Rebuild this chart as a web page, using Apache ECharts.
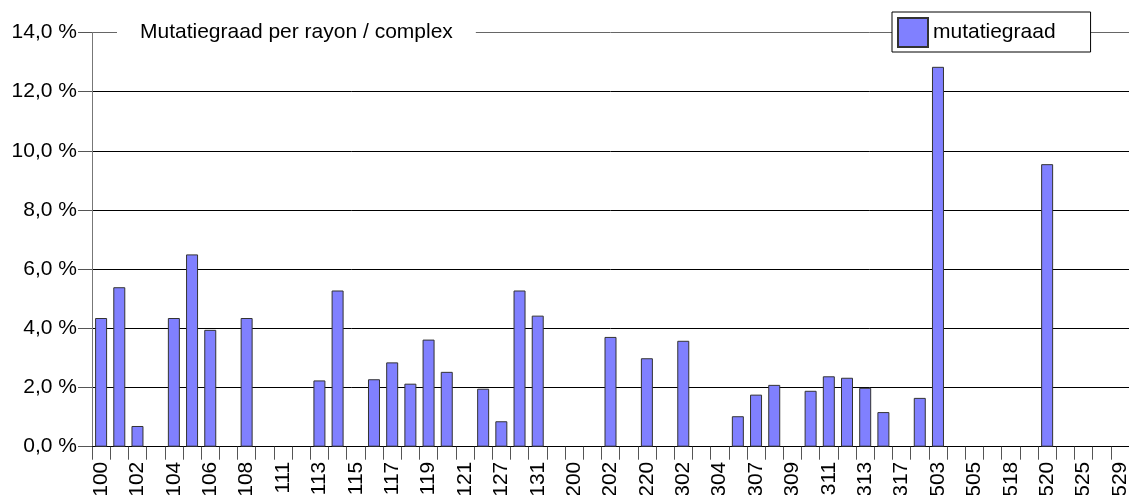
<!DOCTYPE html>
<html>
<head>
<meta charset="utf-8">
<script src="https://cdn.jsdelivr.net/npm/echarts@6/dist/echarts.min.js"></script>
<style>
  html, body { margin: 0; padding: 0; background: #fff; }
  #chart { width: 1129px; height: 495px; }
</style>
</head>
<body>
<div id="chart"></div>
<script>
// rayon / complex codes (only every other one is labelled on the axis)
const categories = [
  '100', '101', '102', '103', '104', '105', '106', '107', '108', '110',
  '111', '112', '113', '114', '115', '116', '117', '118', '119', '120',
  '121', '125', '127', '129', '131', '132', '200', '201', '202', '210',
  '220', '301', '302', '303', '304', '306', '307', '308', '309', '310',
  '311', '312', '313', '315', '317', '318', '503', '504', '505', '510',
  '518', '519', '520', '522', '525', '527', '529'
];

// mutatiegraad in %
const mutatiegraad = [
  4.35, 5.39, 0.70, 0, 4.35, 6.50, 3.95, 0, 4.35, 0,
  0, 0, 2.24, 5.28, 0, 2.28, 2.85, 2.13, 3.62, 2.53,
  0, 1.96, 0.86, 5.28, 4.43, 0, 0, 0, 3.71, 0,
  2.99, 0, 3.58, 0, 0, 1.03, 1.76, 2.09, 0, 1.89,
  2.38, 2.33, 1.99, 1.17, 0, 1.65, 12.84, 0, 0, 0,
  0, 0, 9.55, 0, 0, 0, 0
];

const yMin = 0;
const yMax = 14;
const yStep = 2;

const FONT = "'Liberation Sans', Arial, sans-serif";

const chart = echarts.init(document.getElementById('chart'));

// a 0 % bar has no visible column, so leave it out (otherwise its border shows on the axis)
const barData = mutatiegraad.map(v => (v === 0 ? '-' : v));

chart.setOption({
  animation: false,
  backgroundColor: '#fff',
  textStyle: { fontFamily: FONT },
  title: {
    text: 'Mutatiegraad per rayon / complex',
    left: 117,
    top: 20,
    padding: [0, 23],
    backgroundColor: '#fff',
    textStyle: {
      fontFamily: FONT,
      fontSize: 21,
      fontWeight: 'normal',
      color: '#000',
      lineHeight: 24
    }
  },
  legend: {
    data: ['mutatiegraad'],
    left: 892,
    top: 12,
    padding: [5, 35, 4, 5],
    backgroundColor: '#fff',
    borderColor: '#000',
    borderWidth: 1,
    borderRadius: 0,
    icon: 'rect',
    itemWidth: 30,
    itemHeight: 29,
    textStyle: { fontFamily: FONT, fontSize: 21, color: '#000' }
  },
  grid: {
    left: 92,
    right: 0,
    top: 32.5,
    bottom: 48.3,
    containLabel: false,
    outerBoundsMode: 'none' // labels run off the bottom edge, like the original
  },
  xAxis: {
    type: 'category',
    data: categories,
    boundaryGap: true,
    axisLine: { show: true, lineStyle: { color: '#000', width: 1 } },
    axisTick: { show: true, interval: 0, length: 13, lineStyle: { color: '#555' } },
    axisLabel: {
      interval: 1,
      rotate: 90,
      margin: 15,
      fontFamily: FONT,
      fontSize: 21,
      color: '#000'
    },
    splitLine: { show: false }
  },
  yAxis: {
    type: 'value',
    min: yMin,
    max: yMax,
    interval: yStep,
    axisLine: { show: true, lineStyle: { color: '#777', width: 1 } },
    axisTick: { show: true, length: 14, lineStyle: { color: '#555' } },
    axisLabel: {
      margin: 15,
      fontFamily: FONT,
      fontSize: 21,
      color: '#000',
      formatter: v => v.toFixed(1).replace('.', ',') + ' %'
    },
    splitLine: {
      show: true,
      lineStyle: {
        color: ['#000', '#000', '#000', '#000', '#000', '#000', '#000', '#666'],
        width: 1
      }
    }
  },
  series: [
    {
      name: 'mutatiegraad',
      type: 'bar',
      data: barData,
      barWidth: 12,
      itemStyle: {
        color: '#8080ff',
        borderColor: '#333',
        borderWidth: 1
      }
    }
  ]
});
</script>
</body>
</html>
